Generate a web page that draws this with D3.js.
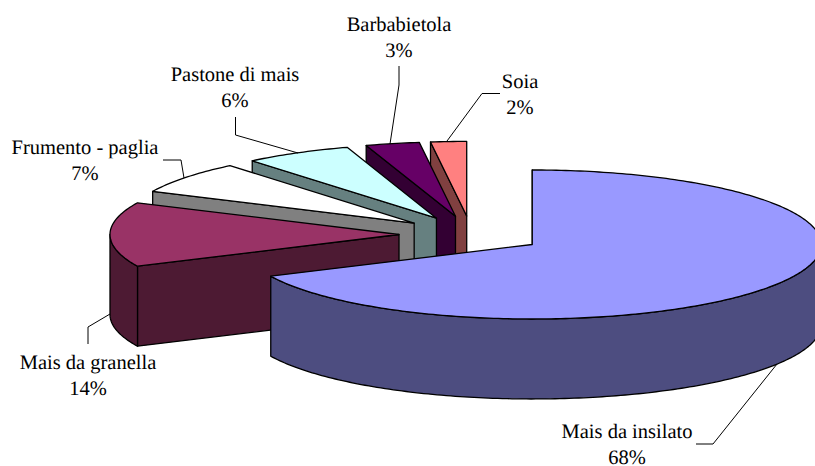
<!DOCTYPE html>
<html>
<head>
<meta charset="utf-8">
<script src="https://cdn.jsdelivr.net/npm/d3@7"></script>
<style>
  html, body { margin: 0; padding: 0; background: #fff; }
  svg { display: block; }
  text { font-family: "Liberation Serif", serif; font-size: 20.5px; fill: #000; text-anchor: middle; text-rendering: geometricPrecision; }
</style>
</head>
<body>
<div id="pie_chart"></div>
<script>
const categories = ["Mais da insilato", "Mais da granella", "Frumento - paglia", "Pastone di mais", "Barbabietola", "Soia"];
const values = [68, 14, 7, 6, 3, 2];

const topColors = ["#9999ff", "#993366", "#ffffff", "#ccffff", "#660066", "#ff8080"];
const wallColors = ["#4d4d80", "#4d1a33", "#808080", "#668080", "#330033", "#804040"];

// label centre and first baseline, then leader line, same order as categories
const labelPos = [[627, 438], [88, 369], [85, 154], [235, 81], [399, 31], [520, 88]];
const leaders = [
    [[696, 444], [713, 444], [777, 364]],
    [[88, 344], [88, 327], [110, 314]],
    [[163, 160], [181, 160], [184, 178]],
    [[235.5, 117], [235.5, 135], [298, 153]],
    [[399, 66], [399, 85], [390, 144]],
    [[500, 93.5], [482, 93.5], [447, 141]]
];

const width = 815, height = 466;
const center = { x: 471.25, y: 234.5 },
    rx = 289, ry = 74.5, depth = 80, explode = 0.25;

const svg = d3.select("#pie_chart")
    .append("svg")
    .attr("width", width)
    .attr("height", height);

const x = d3.scaleLinear().domain([-1, 1]).range([center.x - rx, center.x + rx]);
const y = d3.scaleLinear().domain([-1, 1]).range([center.y - ry, center.y + ry]);

const slices = d3.pie().sort(null)(values);
const line = d3.line();

// angle 0 is up, going clockwise, same as d3.pie
const unit = (a, r) => [Math.sin(a) * r, -Math.cos(a) * r];

const apex = d => unit((d.startAngle + d.endAngle) / 2, explode);

const pt = (d, a, r, drop) => {
    const o = apex(d), u = unit(a, r);
    return [x(o[0] + u[0]), y(o[1] + u[1]) + drop];
};

const arcPoints = (d, a0, a1, drop) => {
    const n = Math.max(2, Math.ceil((a1 - a0) * 60));
    return d3.range(n + 1).map(i => pt(d, a0 + (a1 - a0) * i / n, 1, drop));
};

const marks = svg.append("g").attr("class", "slices")
    .attr("stroke", "#000")
    .attr("stroke-width", 1.3)
    .attr("stroke-linejoin", "round");

// back slices first, the big one goes on top of everything
slices.slice().reverse().forEach(d => {
    const g = marks.append("g");
    const wall = wallColors[d.index], top = topColors[d.index];

    // radial side facing the viewer
    g.append("path")
        .attr("fill", wall)
        .attr("d", line([
            pt(d, d.startAngle, 0, 0),
            pt(d, d.startAngle, 1, 0),
            pt(d, d.startAngle, 1, depth),
            pt(d, d.startAngle, 0, depth)
        ]) + "Z");

    // rim, only the front half shows
    const a0 = Math.max(d.startAngle, Math.PI / 2),
        a1 = Math.min(d.endAngle, Math.PI * 1.5);
    if (a1 > a0) {
        g.append("path")
            .attr("fill", wall)
            .attr("d", line(arcPoints(d, a0, a1, 0).concat(arcPoints(d, a0, a1, depth).reverse())) + "Z");
    }

    g.append("path")
        .attr("fill", top)
        .attr("d", line([pt(d, 0, 0, 0)].concat(arcPoints(d, d.startAngle, d.endAngle, 0))) + "Z");
});

svg.append("g").attr("class", "leaders")
    .selectAll("path")
    .data(leaders)
    .join("path")
    .attr("fill", "none")
    .attr("stroke", "#000")
    .attr("stroke-width", 1)
    .attr("d", d => line(d));

const labels = svg.append("g").attr("class", "labels")
    .selectAll("text")
    .data(slices)
    .join("text")
    .attr("transform", d => `translate(${labelPos[d.index][0]}, ${labelPos[d.index][1]})`);

labels.append("tspan")
    .attr("x", 0)
    .text(d => categories[d.index]);

labels.append("tspan")
    .attr("x", 0)
    .attr("dy", 25.5)
    .text(d => d.value + "%");
</script>
</body>
</html>
